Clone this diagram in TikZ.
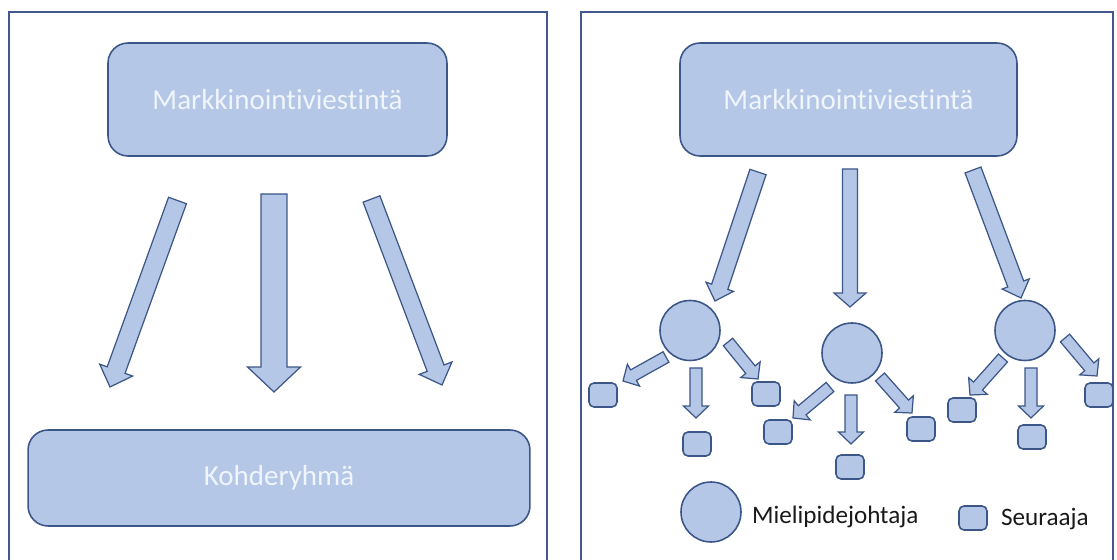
\documentclass[tikz,border=0pt]{standalone}
\usepackage{fontspec}
\setmainfont{Carlito}[Ligatures={NoCommon,NoRare}]
\usepackage{tikz}
\usetikzlibrary{
	calc,
	positioning
}
\definecolor{BoxBlue}{RGB}{180,199,231}
\definecolor{EdgeBlue}{RGB}{61,86,136}
\definecolor{FrameBlue}{RGB}{66,88,142}
\definecolor{PaleText}{RGB}{240,244,251}
\definecolor{DarkText}{RGB}{25,25,25}

% block arrow: from, to, shaft width, head width, head length (all in px)
\newcommand{\blockarrow}[5]{%
	\coordinate (ba) at ($(#2)!#5*0.569pt!(#1)$);
	\filldraw[arrowbody] ($(#1)!#3*0.2845pt!90:(#2)$) -- ($(ba)!#3*0.2845pt!-90:(#1)$)
		-- ($(ba)!#4*0.2845pt!-90:(#1)$) -- (#2) -- ($(ba)!#4*0.2845pt!90:(#1)$)
		-- ($(ba)!#3*0.2845pt!90:(#1)$) -- ($(#1)!#3*0.2845pt!-90:(#2)$) -- cycle;
}

\begin{document}
\begin{tikzpicture}[x=0.02cm, y=-0.02cm,
	bigbox/.style={draw=EdgeBlue, line width=0.9pt, fill=BoxBlue, rounded corners=0.4cm,
		text=PaleText, font=\fontsize{16.5}{18}\selectfont},
	leader/.style={circle, draw=EdgeBlue, line width=0.9pt, fill=BoxBlue, minimum size=1.2cm, inner sep=0pt},
	follower/.style={draw=EdgeBlue, line width=0.9pt, fill=BoxBlue, rounded corners=0.1cm,
		minimum width=0.56cm, minimum height=0.48cm, inner sep=0pt},
	arrowbody/.style={draw=EdgeBlue, line width=0.7pt, fill=BoxBlue, line join=miter},
	legendtext/.style={text=DarkText, inner sep=0pt, font=\fontsize{14.3}{16}\selectfont}
	]
	\useasboundingbox (0,0) rectangle (1117,560);

	% frames
	\draw[FrameBlue, line width=0.7pt] (9,560) -- (9,12) -- (547,12) -- (547,560);
	\draw[FrameBlue, line width=0.7pt] (581,560) -- (581,12) -- (1113,12) -- (1113,560);

	% left panel
	\node[bigbox, minimum width=6.78cm, minimum height=2.26cm] (mL) at (277.5,99.5) {Markkinointiviestintä};
	\node[bigbox, minimum width=10.04cm, minimum height=1.92cm] (kL) at (279,478) {Kohderyhmä};
	\coordinate (aL1s) at (177.5,200.5); \coordinate (aL1e) at (110,387);
	\coordinate (aL2s) at (274,194);     \coordinate (aL2e) at (274,392);
	\coordinate (aL3s) at (371.5,199);   \coordinate (aL3e) at (442,385);
	\blockarrow{aL1s}{aL1e}{19}{35}{18}
	\blockarrow{aL2s}{aL2e}{26}{53}{25}
	\blockarrow{aL3s}{aL3e}{18}{35}{18}

	% right panel
	\node[bigbox, minimum width=6.74cm, minimum height=2.26cm] (mR) at (848.5,99.5) {Markkinointiviestintä};
	\node[leader] (oL) at (690,330.5) {};
	\node[leader] (oC) at (852,353) {};
	\node[leader] (oR) at (1025,330.5) {};
	\coordinate (aR1s) at (758,172); \coordinate (aR1e) at (715,301);
	\coordinate (aR2s) at (850,169); \coordinate (aR2e) at (850,307);
	\coordinate (aR3s) at (973,170); \coordinate (aR3e) at (1021,298);
	\blockarrow{aR1s}{aR1e}{17}{29}{15}
	\blockarrow{aR2s}{aR2e}{15}{32}{14}
	\blockarrow{aR3s}{aR3e}{17}{29}{15}

	% followers
	\node[follower] (s1) at (603,395) {};
	\node[follower] (s2) at (697,444) {};
	\node[follower] (s3) at (766,394) {};
	\node[follower] (s4) at (778,432) {};
	\node[follower] (s5) at (850,467) {};
	\node[follower] (s6) at (921,429) {};
	\node[follower] (s7) at (962,410) {};
	\node[follower] (s8) at (1032,437) {};
	\node[follower] (s9) at (1099,395) {};

	% small arrows
	\coordinate (b1s) at (666,357);  \coordinate (b1e) at (623,381);
	\coordinate (b2s) at (696,368);  \coordinate (b2e) at (696,418);
	\coordinate (b3s) at (728,342);  \coordinate (b3e) at (758,379);
	\coordinate (b4s) at (830,387);  \coordinate (b4e) at (793,418);
	\coordinate (b5s) at (851,395);  \coordinate (b5e) at (851,444);
	\coordinate (b6s) at (880,377);  \coordinate (b6e) at (912,413);
	\coordinate (b7s) at (1003,358); \coordinate (b7e) at (970,395);
	\coordinate (b8s) at (1031,368); \coordinate (b8e) at (1031,418);
	\coordinate (b9s) at (1065,338); \coordinate (b9e) at (1097,376);
	\blockarrow{b1s}{b1e}{12}{25}{12}
	\blockarrow{b2s}{b2e}{12}{25}{12}
	\blockarrow{b3s}{b3e}{12}{25}{12}
	\blockarrow{b4s}{b4e}{12}{25}{12}
	\blockarrow{b5s}{b5e}{12}{25}{12}
	\blockarrow{b6s}{b6e}{12}{25}{12}
	\blockarrow{b7s}{b7e}{12}{25}{12}
	\blockarrow{b8s}{b8e}{12}{25}{12}
	\blockarrow{b9s}{b9e}{12}{25}{12}

	% legend
	\node[leader] (lgO) at (711,512) {};
	\node[legendtext, right=0.2cm of lgO, yshift=-0.1cm] (lgOt) {Mielipidejohtaja};
	\node[follower] (lgS) at (973,518) {};
	\node[legendtext, right=0.26cm of lgS, yshift=-0.03cm] (lgSt) {Seuraaja};
\end{tikzpicture}
\end{document}
